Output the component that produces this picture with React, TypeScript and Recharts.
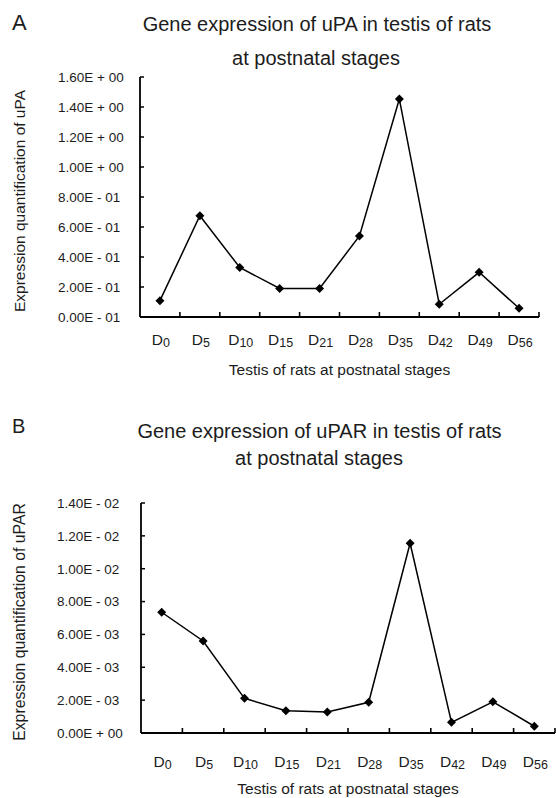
import React from 'react';
import { LineChart, Line, XAxis, YAxis, Label } from 'recharts';

// ---- data ----
const stages = ['0', '5', '10', '15', '21', '28', '35', '42', '49', '56'];
const upaValues = [0.109, 0.675, 0.33, 0.19, 0.19, 0.54, 1.453, 0.085, 0.298, 0.058];
const uparValues = [0.00735, 0.0056, 0.00211, 0.00136, 0.00128, 0.00187, 0.01155, 0.00065, 0.0019, 0.00041];

const upaTicks = [0, 0.2, 0.4, 0.6, 0.8, 1.0, 1.2, 1.4, 1.6];
const upaTickLabels = ['0.00E - 01', '2.00E - 01', '4.00E - 01', '6.00E - 01', '8.00E - 01', '1.00E + 00', '1.20E + 00', '1.40E + 00', '1.60E + 00'];
const uparTicks = [0, 0.002, 0.004, 0.006, 0.008, 0.01, 0.012, 0.014];
const uparTickLabels = ['0.00E + 00', '2.00E - 03', '4.00E - 03', '6.00E - 03', '8.00E - 03', '1.00E - 02', '1.20E - 02', '1.40E - 02'];

const titleA = ['Gene expression of uPA in testis of rats', 'at postnatal stages'];
const titleB = ['Gene expression of uPAR in testis of rats', 'at postnatal stages'];
const xTitle = 'Testis of rats at postnatal stages';
const yTitleA = 'Expression quantification of uPA';
const yTitleB = 'Expression quantification of uPAR';

const dataA = stages.map((s, i) => ({ stage: s, value: upaValues[i] }));
const dataB = stages.map((s, i) => ({ stage: s, value: uparValues[i] }));

const FONT = '"Liberation Sans", Arial, Helvetica, sans-serif';
const INK = '#1c1c1c';

const makeXTick = (band: number, labelDy: number) => (props: any) => {
  const { x, y, payload, index } = props;
  return (
    <g key={index}>
      <line x1={x + band / 2} y1={y} x2={x + band / 2} y2={y - 5} stroke="#000" strokeWidth={1.6} />
      <text x={x + 1} y={y + labelDy} textAnchor="middle" fontFamily={FONT} fill={INK}>
        <tspan fontSize={15.5}>D</tspan>
        <tspan fontSize={12.5} dy={1.5}>{payload.value}</tspan>
      </text>
    </g>
  );
};

const makeYTick = (labels: string[], labelX: number) => (props: any) => {
  const { x, y, index } = props;
  return (
    <g key={index}>
      <line x1={x} y1={y} x2={x + 4} y2={y} stroke="#000" strokeWidth={1.5} />
      <text x={labelX} y={y} dy="0.36em" textAnchor="start" fontFamily={FONT} fontSize={13.5} fill={INK}>
        {labels[index]}
      </text>
    </g>
  );
};

const diamond = (props: any) => {
  const { cx, cy, index } = props;
  if (cx == null || cy == null) return <g key={index} />;
  const r = 4.5;
  return <path key={index} d={`M${cx},${cy - r}L${cx + r},${cy}L${cx},${cy + r}L${cx - r},${cy}Z`} fill="#000" />;
};

const xTitleContent = (baseY: number, dx: number) => (props: any) => {
  const vb = props.viewBox || {};
  return (
    <text x={vb.x + vb.width / 2 + dx} y={baseY} textAnchor="middle" fontFamily={FONT} fontSize={15.5} fill={INK}>
      {props.value}
    </text>
  );
};

const yTitleContent = (baseX: number, dy: number, size: number) => (props: any) => {
  const vb = props.viewBox || {};
  const cy = vb.y + vb.height / 2 + dy;
  return (
    <text x={baseX} y={cy} transform={`rotate(-90 ${baseX} ${cy})`} textAnchor="middle" fontFamily={FONT} fontSize={size} fill={INK}>
      {props.value}
    </text>
  );
};

export default function App() {
  // Panel A plot: x 140..539, y 77..317
  const bandA = (539 - 140) / stages.length;
  // Panel B plot: x 141..555, y 503..733 (chart top at 400)
  const bandB = (555 - 141) / stages.length;
  return (
    <div style={{ position: 'absolute', left: 0, top: 0, width: 556, height: 798, background: '#fff', overflow: 'hidden' }}>
      <div style={{ position: 'absolute', left: 0, top: 0 }}>
        <LineChart width={556} height={400} data={dataA} margin={{ top: 77, right: 17, bottom: 0, left: 0 }}>
          <XAxis
            dataKey="stage"
            scale="band"
            height={83}
            interval={0}
            tickSize={0}
            tickMargin={0}
            tickLine={false}
            axisLine={{ stroke: '#000', strokeWidth: 1.8 }}
            tick={makeXTick(bandA, 28)}
          >
            <Label value={xTitle} content={xTitleContent(375, 0)} />
          </XAxis>
          <YAxis
            width={140}
            domain={[0, 1.6]}
            ticks={upaTicks}
            interval={0}
            tickSize={0}
            tickMargin={0}
            tickLine={false}
            axisLine={{ stroke: '#000', strokeWidth: 1.8 }}
            tick={makeYTick(upaTickLabels, 58)}
          >
            <Label value={yTitleA} content={yTitleContent(25, 4, 15.5)} />
          </YAxis>
          <Line dataKey="value" stroke="#000" strokeWidth={1.5} dot={diamond} activeDot={false} isAnimationActive={false} />
        </LineChart>
      </div>
      <div style={{ position: 'absolute', left: 0, top: 400 }}>
        <LineChart width={556} height={398} data={dataB} margin={{ top: 103, right: 1, bottom: 0, left: 0 }}>
          <XAxis
            dataKey="stage"
            scale="band"
            height={65}
            interval={0}
            tickSize={0}
            tickMargin={0}
            tickLine={false}
            axisLine={{ stroke: '#000', strokeWidth: 1.8 }}
            tick={makeXTick(bandB, 34)}
          >
            <Label value={xTitle} content={xTitleContent(394, 0)} />
          </XAxis>
          <YAxis
            width={141}
            domain={[0, 0.014]}
            ticks={uparTicks}
            interval={0}
            tickSize={0}
            tickMargin={0}
            tickLine={false}
            axisLine={{ stroke: '#000', strokeWidth: 1.8 }}
            tick={makeYTick(uparTickLabels, 57)}
          >
            <Label value={yTitleB} content={yTitleContent(25, 4, 15.8)} />
          </YAxis>
          <Line dataKey="value" stroke="#000" strokeWidth={1.5} dot={diamond} activeDot={false} isAnimationActive={false} />
        </LineChart>
      </div>
      <svg width={556} height={798} style={{ position: 'absolute', left: 0, top: 0, pointerEvents: 'none' }}>
        <text x={12} y={30} fontFamily={FONT} fontSize={22} fill={INK}>A</text>
        <text x={317} y={31} textAnchor="middle" fontFamily={FONT} fontSize={20} fill={INK}>{titleA[0]}</text>
        <text x={316} y={65} textAnchor="middle" fontFamily={FONT} fontSize={20} fill={INK}>{titleA[1]}</text>
        <text x={12} y={433} fontFamily={FONT} fontSize={20} fill={INK}>B</text>
        <text x={319.5} y={438} textAnchor="middle" fontFamily={FONT} fontSize={20} fill={INK}>{titleB[0]}</text>
        <text x={319} y={465} textAnchor="middle" fontFamily={FONT} fontSize={20} fill={INK}>{titleB[1]}</text>
      </svg>
    </div>
  );
}
